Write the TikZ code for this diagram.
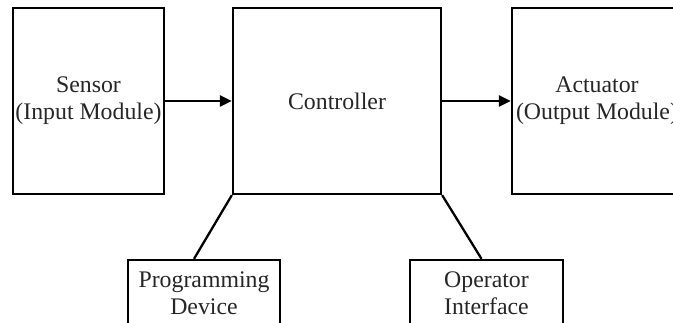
\documentclass[tikz,border=0pt]{standalone}
\usepackage{fontspec}
\setmainfont{Liberation Serif}
\usetikzlibrary{arrows.meta}
\begin{document}
\begin{tikzpicture}[x=1pt,y=-1pt,
  blk/.style={draw, line width=2.3pt, align=center, inner sep=0pt,
    font=\fontsize{23.8}{27}\selectfont, text=black!85},
  link/.style={line width=2.3pt},
  arr/.style={line width=2.3pt, -{Triangle[length=12pt,width=11pt]}}]
\clip (0,0) rectangle (673,322);
% main blocks
\node[blk, minimum width=151pt, minimum height=186pt] (sensor) at (88.5,101) {Sensor\\(Input Module)};
\node[blk, minimum width=208pt, minimum height=186pt] (ctrl) at (337,101) {Controller};
\node[blk, minimum width=170pt, minimum height=186pt] (act) at (597,101) {Actuator\\(Output Module)};
% peripherals
\node[blk, minimum width=152pt, minimum height=66pt] (prog) at (204,293) {Programming\\Device};
\node[blk, minimum width=153pt, minimum height=66pt] (op) at (486.5,293) {Operator\\Interface};
% connections
\draw[arr] (sensor.east) -- (ctrl.west);
\draw[arr] (ctrl.east) -- (act.west);
\draw[link] (ctrl.south west) -- ([xshift=-10pt]prog.north);
\draw[link] (ctrl.south east) -- ([xshift=-5pt]op.north);
\end{tikzpicture}
\end{document}
